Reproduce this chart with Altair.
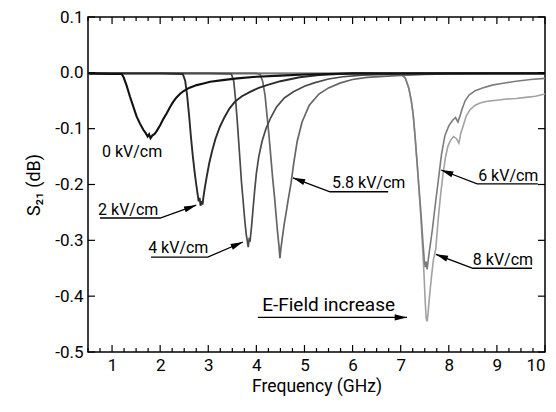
import math
import altair as alt
import pandas as pd

FONT = "Roboto, Liberation Sans, sans-serif"

# ---------------- data ----------------
f8_x = [0.5, 1, 2, 3, 4, 5, 6, 6.9, 7.02, 7.1, 7.17, 7.22, 7.26, 7.3, 7.34, 7.38, 7.42, 7.46,
        7.49, 7.51, 7.53, 7.55, 7.57, 7.6, 7.64, 7.68, 7.73, 7.78, 7.83, 7.88, 7.93, 7.98, 8.04,
        8.1, 8.16, 8.21, 8.25, 8.3, 8.36, 8.44, 8.55, 8.65, 8.8, 9.0, 9.2, 9.4, 9.6, 9.8, 10]
f8_y = [-0.001, -0.001, -0.001, -0.001, -0.001, -0.001, -0.001, -0.002, -0.003, -0.010, -0.028,
        -0.050, -0.075, -0.115, -0.160, -0.210, -0.260, -0.320, -0.370, -0.410, -0.440, -0.445,
        -0.430, -0.400, -0.365, -0.335, -0.315, -0.262, -0.218, -0.182, -0.152, -0.132, -0.120,
        -0.114, -0.118, -0.126, -0.108, -0.095, -0.078, -0.066, -0.058, -0.054, -0.051, -0.049,
        -0.047, -0.046, -0.044, -0.042, -0.038]

f6_x = [0.5, 1, 2, 3, 4, 5, 6, 6.9, 7.02, 7.1, 7.17, 7.22, 7.26, 7.3, 7.34, 7.38, 7.42, 7.46,
        7.49, 7.51, 7.53, 7.55, 7.58, 7.62, 7.66, 7.7, 7.75, 7.8, 7.85, 7.92, 8.0, 8.08, 8.14,
        8.19, 8.23, 8.28, 8.34, 8.42, 8.55, 8.7, 8.9, 9.1, 9.4, 9.7, 10]
f6_y = [-0.001, -0.001, -0.001, -0.001, -0.001, -0.001, -0.001, -0.002, -0.003, -0.010, -0.028,
        -0.050, -0.075, -0.115, -0.160, -0.205, -0.250, -0.300, -0.335, -0.348, -0.338, -0.352,
        -0.330, -0.305, -0.280, -0.250, -0.215, -0.180, -0.145, -0.112, -0.095, -0.085, -0.080,
        -0.088, -0.078, -0.064, -0.050, -0.040, -0.032, -0.027, -0.022, -0.019, -0.015, -0.012,
        -0.010]

f58_x = [0.5, 1, 2, 3, 4, 4.08, 4.13, 4.18, 4.22, 4.26, 4.3, 4.34, 4.38, 4.41, 4.44, 4.47, 4.49,
         4.51, 4.54, 4.58, 4.62, 4.66, 4.72, 4.78, 4.85, 4.95, 5.1, 5.3, 5.5, 5.75, 6.0, 6.3, 6.9,
         7.5, 8, 9, 10]
f58_y = [-0.001, -0.001, -0.001, -0.001, -0.001, -0.003, -0.015, -0.040, -0.075, -0.110, -0.150,
         -0.190, -0.225, -0.255, -0.285, -0.310, -0.332, -0.315, -0.295, -0.270, -0.250, -0.228,
         -0.198, -0.160, -0.122, -0.088, -0.058, -0.038, -0.027, -0.018, -0.012, -0.008, -0.005,
         -0.003, -0.002, -0.001, -0.001]

f4_x = [0.5, 1, 2, 3, 3.48, 3.53, 3.57, 3.61, 3.65, 3.69, 3.73, 3.76, 3.79, 3.81, 3.83, 3.85,
        3.87, 3.9, 3.93, 3.96, 4.0, 4.05, 4.12, 4.2, 4.3, 4.42, 4.58, 4.77, 5.0, 5.2, 5.5, 5.8,
        6.2, 7, 8, 9, 10]
f4_y = [-0.001, -0.001, -0.001, -0.001, -0.002, -0.015, -0.050, -0.095, -0.145, -0.195, -0.235,
        -0.265, -0.290, -0.300, -0.312, -0.298, -0.300, -0.275, -0.245, -0.215, -0.180, -0.150,
        -0.122, -0.100, -0.080, -0.061, -0.045, -0.034, -0.024, -0.018, -0.011, -0.007, -0.004,
        -0.002, -0.001, -0.001, -0.001]

f2_x = [0.5, 1, 2, 2.47, 2.52, 2.56, 2.6, 2.64, 2.68, 2.72, 2.75, 2.78, 2.8, 2.82, 2.84, 2.86,
        2.88, 2.9, 2.93, 2.97, 3.02, 3.08, 3.15, 3.24, 3.34, 3.44, 3.55, 3.7, 3.87, 4.05, 4.22,
        4.5, 4.9, 5.3, 5.7, 6.2, 7, 8, 9, 10]
f2_y = [-0.001, -0.001, -0.001, -0.002, -0.014, -0.040, -0.075, -0.115, -0.150, -0.180, -0.200,
        -0.218, -0.230, -0.224, -0.238, -0.230, -0.236, -0.222, -0.205, -0.185, -0.162, -0.140,
        -0.118, -0.097, -0.079, -0.064, -0.052, -0.042, -0.034, -0.027, -0.022, -0.015, -0.008,
        -0.004, -0.002, -0.001, -0.001, -0.001, -0.001, -0.001]

f0_x = [0.5, 1, 1.2, 1.24, 1.3, 1.37, 1.44, 1.51, 1.58, 1.65, 1.7, 1.74, 1.77, 1.8, 1.84, 1.88,
        1.93, 2.0, 2.07, 2.14, 2.2, 2.27, 2.34, 2.41, 2.48, 2.6, 2.76, 2.9, 3.04, 3.3, 3.6, 4.0,
        4.5, 5.0, 5.5, 6, 7, 8, 9, 10]
f0_y = [-0.001, -0.002, -0.002, -0.008, -0.022, -0.042, -0.060, -0.078, -0.091, -0.102, -0.108,
        -0.114, -0.110, -0.117, -0.112, -0.110, -0.104, -0.094, -0.082, -0.072, -0.062, -0.052,
        -0.044, -0.038, -0.033, -0.027, -0.022, -0.019, -0.016, -0.013, -0.010, -0.007, -0.005,
        -0.003, -0.002, -0.001, -0.001, -0.001, -0.001, -0.001]

series_names = ["8 kV/cm", "6 kV/cm", "5.8 kV/cm", "4 kV/cm", "2 kV/cm", "0 kV/cm"]
series_x = [f8_x, f6_x, f58_x, f4_x, f2_x, f0_x]
series_y = [f8_y, f6_y, f58_y, f4_y, f2_y, f0_y]
series_col = ["#a2a2a2", "#7c7c7c", "#656565", "#4a4a4a", "#2a2a2a", "#111111"]
series_w = [1.6, 1.6, 1.7, 1.7, 1.9, 2.1]

# annotations: label, text x, text y, font size, path xs, path ys (last point = arrow tip)
ann_text = ["0 kV/cm", "2 kV/cm", "4 kV/cm", "5.8 kV/cm", "6 kV/cm", "8 kV/cm", "E-Field increase"]
ann_tx = [0.79, 0.71, 1.75, 5.57, 8.61, 8.50, 4.12]
ann_ty = [-0.142, -0.246, -0.314, -0.197, -0.185, -0.336, -0.416]
ann_fs = [16, 16, 16, 16, 16, 16, 19]
ann_px = [None, [0.75, 2.0, 2.75], [1.81, 2.99, 3.72], [6.74, 5.53, 4.76],
          [9.85, 8.59, 7.84], [9.73, 8.50, 7.73], [4.03, 7.13]]
ann_py = [None, [-0.260, -0.260, -0.237], [-0.330, -0.330, -0.303], [-0.213, -0.213, -0.188],
          [-0.199, -0.199, -0.174], [-0.350, -0.350, -0.325], [-0.438, -0.438]]

x_ticks_major = list(range(1, 11))
x_ticks_minor = [0.5 + 0.25 * k for k in range(39) if (0.5 + 0.25 * k) % 1 != 0]
y_ticks = [0.1, 0.0, -0.1, -0.2, -0.3, -0.4, -0.5]

# ---------------- chart ----------------
W, H = 457, 335
X_DOM = [0.5, 10]
Y_DOM = [-0.5, 0.1]
xscale = alt.Scale(domain=X_DOM, nice=False, zero=False)
yscale = alt.Scale(domain=Y_DOM, nice=False, zero=False)

xaxis = alt.Axis(values=x_ticks_major, format="d", ticks=False, domain=False, grid=False,
                 labelFont=FONT, labelFontSize=17, labelColor="black", labelPadding=5,
                 title="Frequency (GHz)", titleFont=FONT, titleFontSize=17.5,
                 titleFontWeight="normal", titleColor="black", titlePadding=4)
yaxis = alt.Axis(values=y_ticks, ticks=False, domain=False, grid=False,
                 labelExpr="replace(format(datum.value, '.1f'), '\u2212', '-')",
                 labelFont=FONT, labelFontSize=17, labelColor="black", labelPadding=5,
                 title="S\u2082\u2081 (dB)", titleFont=FONT, titleFontSize=18,
                 titleFontWeight="normal", titleColor="black", titlePadding=11)


def X(field):
    return alt.X(field, type="quantitative", scale=xscale, axis=xaxis)


def Y(field):
    return alt.Y(field, type="quantitative", scale=yscale, axis=yaxis)


layers = []
for name, xs_, ys_, col, w in zip(series_names, series_x, series_y, series_col, series_w):
    d = pd.DataFrame({"f": xs_, "s": ys_, "i": range(len(xs_))})
    layers.append(
        alt.Chart(d).mark_line(color=col, strokeWidth=w, clip=True)
        .encode(x=X("f"), y=Y("s"), order="i:Q")
    )

# tick marks (inward, all four sides)
tmaj = pd.DataFrame({"t": x_ticks_major})
tmin = pd.DataFrame({"t": x_ticks_minor})
ytk = pd.DataFrame({"v": y_ticks})
tick_style = dict(color="black", strokeWidth=1.2)
layers += [
    alt.Chart(tmaj).mark_rule(**tick_style).encode(x=X("t"), y=alt.value(H), y2=alt.value(H - 7)),
    alt.Chart(tmaj).mark_rule(**tick_style).encode(x=X("t"), y=alt.value(0), y2=alt.value(7)),
    alt.Chart(tmin).mark_rule(**tick_style).encode(x=X("t"), y=alt.value(H), y2=alt.value(H - 4)),
    alt.Chart(tmin).mark_rule(**tick_style).encode(x=X("t"), y=alt.value(0), y2=alt.value(4)),
    alt.Chart(ytk).mark_rule(**tick_style).encode(y=Y("v"), x=alt.value(0), x2=alt.value(7)),
    alt.Chart(ytk).mark_rule(**tick_style).encode(y=Y("v"), x=alt.value(W), x2=alt.value(W - 7)),
]

# annotation lines + arrowheads
px_per_x = W / (X_DOM[1] - X_DOM[0])
px_per_y = H / (Y_DOM[1] - Y_DOM[0])
path_rows, head_rows = [], []
for k, (pxs, pys) in enumerate(zip(ann_px, ann_py)):
    if pxs is None:
        continue
    for i, (a, b) in enumerate(zip(pxs, pys)):
        path_rows.append({"id": k, "i": i, "x": a, "y": b})
    dx = (pxs[-1] - pxs[-2]) * px_per_x
    dy = -(pys[-1] - pys[-2]) * px_per_y
    ang = math.degrees(math.atan2(dy, dx)) % 360
    head_rows.append({"x": pxs[-1], "y": pys[-1], "ang": ang})

layers.append(
    alt.Chart(pd.DataFrame(path_rows)).mark_line(color="black", strokeWidth=1.3)
    .encode(x=X("x"), y=Y("y"), detail="id:N", order="i:Q")
)
layers.append(
    alt.Chart(pd.DataFrame(head_rows)).mark_point(
        shape="M0,0L-2,-0.5L-2,0.5Z", filled=True, color="black", opacity=1, size=150)
    .encode(x=X("x"), y=Y("y"), angle=alt.Angle("ang:Q", scale=None))
)
layers.append(
    alt.Chart(pd.DataFrame({"t": ann_text, "x": ann_tx, "y": ann_ty, "fs": ann_fs})).mark_text(
        font=FONT, color="black", align="left", baseline="middle")
    .encode(x=X("x"), y=Y("y"), text="t:N", size=alt.Size("fs:Q", scale=None, legend=None))
)

chart = alt.layer(*layers).properties(
    width=W, height=H,
    autosize=alt.AutoSizeParams(type="none"),
    padding={"left": 88, "top": 17, "right": 11, "bottom": 60},
    background="white",
).configure_view(stroke="black", strokeWidth=1.5)

chart.save("out.html", embed_options={"renderer": "svg", "actions": False})
